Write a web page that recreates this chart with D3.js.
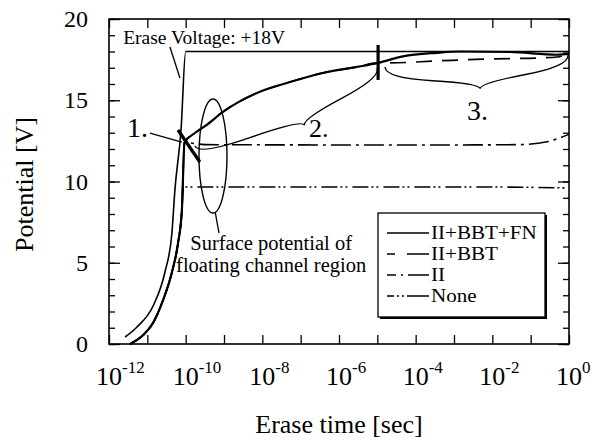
<!DOCTYPE html>
<html>
<head>
<meta charset="utf-8">
<script src="https://cdn.jsdelivr.net/npm/d3@7"></script>
<style>
  body { margin: 0; background: #fff; }
  svg { display: block; font-family: "Liberation Serif", "Times New Roman", serif; }
</style>
</head>
<body>
<div class="canvas"></div>
<script>
// ---- data (time given as exponent of 10, potential in V) ----
const decades = d3.range(-12, 1);
const labelledDecades = [-12, -10, -8, -6, -4, -2, 0];
const majorV = [0, 5, 10, 15, 20];
const minorV = d3.range(0, 21);

// erase voltage on the gate
const eraseT = [-11.58, -11.27, -10.85, -10.54, -10.36, -10.28, -10.12, -10.0, 0];
const eraseV = [0.43, 1.05, 2.34, 4.43, 6.8, 9.5, 13.2, 18, 18];

// common rise of the surface potential (all models)
const riseT = [-11.45, -11.11, -10.85, -10.59, -10.36, -10.2, -10.1];
const riseV = [0, 0.55, 1.3, 2.7, 4.4, 6.2, 8.2];

// tails after the pulse edge
const noneT = [-10.06, -8, -5, -2, 0];
const noneV = [9.66, 9.66, 9.66, 9.66, 9.6];

const iiT = [-10.03, -9.5, -6, -3, -1.28, -0.57, 0];
const iiV = [12.4, 12.27, 12.25, 12.25, 12.27, 12.45, 12.9];

const bbtT = [-10.03, -9.75, -9.44, -9.03, -8.14, -7.28, -6.42, -5.53, -4.98, -4.67, -3.44, -2.14, -0.83, -0.31, 0];
const bbtV = [12.4, 13.0, 13.5, 14.28, 15.45, 16.12, 16.68, 17.05, 17.3, 17.3, 17.42, 17.54, 17.6, 17.66, 17.9];

const fnT = [-10.03, -9.75, -9.44, -9.03, -8.14, -7.28, -6.42, -5.53, -4.98, -4.33, -3.45, -2.84, -1.54, -0.31, 0];
const fnV = [12.4, 13.0, 13.5, 14.28, 15.45, 16.12, 16.68, 17.05, 17.3, 17.7, 17.92, 18.0, 17.97, 17.8, 17.85];

const seriesNames = ['II+BBT+FN', 'II+BBT', 'II', 'None'];

// ---- layout ----
const dims = { width: 603, height: 446 };
const margin = { top: 19, right: 34, bottom: 102, left: 109 };

const svg = d3.select('.canvas')
  .append('svg')
  .attr('width', dims.width)
  .attr('height', dims.height);

const x = d3.scaleLog()
  .domain([1e-12, 1])
  .range([margin.left, dims.width - margin.right]);
const y = d3.scaleLinear()
  .domain([0, 20])
  .range([dims.height - margin.bottom, margin.top]);

const px = e => x(Math.pow(10, e));
const zip = (ts, vs) => ts.map((t, i) => [t, vs[i]]);

const line = d3.line()
  .x(d => px(d[0]))
  .y(d => y(d[1]))
  .curve(d3.curveMonotoneX);

// ---- axes (ticks point inward) ----
const tv = decades.map(e => Math.pow(10, e));
const yBottom = y.range()[0], yTop = y.range()[1];
const xLeft = x.range()[0], xRight = x.range()[1];

svg.append('g').attr('transform', `translate(0,${yBottom})`)
  .call(d3.axisBottom(x).tickValues(tv).tickSize(-9).tickFormat(''));
svg.append('g').attr('transform', `translate(0,${yTop})`)
  .call(d3.axisTop(x).tickValues(tv).tickSize(-9).tickFormat(''));
svg.append('g').attr('transform', `translate(${xLeft},0)`)
  .call(d3.axisLeft(y).tickValues(minorV).tickSize(-6).tickFormat(''));
svg.append('g').attr('transform', `translate(${xLeft},0)`)
  .call(d3.axisLeft(y).tickValues(majorV).tickSize(-11).tickPadding(21))
  .selectAll('text').attr('font-size', 24).attr('font-family', 'Liberation Serif').attr('fill', '#000');
svg.append('g').attr('transform', `translate(${xRight},0)`)
  .call(d3.axisRight(y).tickValues(minorV).tickSize(-6).tickFormat(''));
svg.append('g').attr('transform', `translate(${xRight},0)`)
  .call(d3.axisRight(y).tickValues(majorV).tickSize(-11).tickFormat(''));

svg.selectAll('.domain').remove();
svg.selectAll('.tick line').attr('stroke', '#000').attr('stroke-width', 1.3);

svg.append('rect')
  .attr('x', xLeft).attr('y', yTop)
  .attr('width', xRight - xLeft).attr('height', yBottom - yTop)
  .attr('fill', 'none').attr('stroke', '#000').attr('stroke-width', 1.6);

// x tick labels 10^n
const xl = svg.append('g').selectAll('g')
  .data(labelledDecades)
  .enter().append('g');
xl.append('text')
  .attr('x', d => px(d)).attr('y', yBottom + 41)
  .attr('text-anchor', 'middle').attr('font-size', 26)
  .text('10');
xl.append('text')
  .attr('x', d => px(d) + 13).attr('y', yBottom + 29)
  .attr('font-size', 17)
  .text(d => d === 0 ? '0' : '-' + Math.abs(d));

// axis titles
svg.append('text')
  .attr('x', (xLeft + xRight) / 2).attr('y', 433)
  .attr('text-anchor', 'middle').attr('font-size', 26)
  .text('Erase time [sec]');
svg.append('text')
  .attr('transform', `translate(33,${(yTop + yBottom) / 2 + 3}) rotate(-90)`)
  .attr('text-anchor', 'middle').attr('font-size', 26)
  .text('Potential [V]');

// ---- curves ----
const curves = [
  { pts: zip(eraseT, eraseV), dash: null, w: 1.6 },
  { pts: zip(riseT.concat(noneT), riseV.concat(noneV)), dash: '16,3,2,3,2,5', w: 1.6 },
  { pts: zip(riseT.concat(iiT), riseV.concat(iiV)), dash: '20,5,3,5', w: 1.6 },
  { pts: zip(riseT.concat(bbtT), riseV.concat(bbtV)), dash: '16,10', w: 1.7 },
  { pts: zip(riseT.concat(fnT), riseV.concat(fnV)), dash: null, w: 2.2 }
];

svg.append('g').selectAll('path')
  .data(curves)
  .enter().append('path')
  .attr('d', d => line(d.pts))
  .attr('fill', 'none')
  .attr('stroke', '#000')
  .attr('stroke-width', d => d.w)
  .attr('stroke-dasharray', d => d.dash);

// ---- annotations ----
const straight = d3.line().x(d => px(d[0])).y(d => y(d[1]));
const ann = svg.append('g').attr('fill', 'none').attr('stroke', '#000');

// thick markers at 1. and at the 2./3. border
ann.append('path').attr('d', straight([[-10.2, 13.17], [-9.63, 11.2]])).attr('stroke-width', 3.2);
ann.append('path').attr('d', straight([[-4.98, 18.4], [-4.98, 16.25]])).attr('stroke-width', 3.2);

// leader lines
ann.append('path').attr('d', straight([[-10.41, 18.28], [-10.15, 16.37]])).attr('stroke-width', 1.3);
ann.append('path').attr('d', straight([[-10.93, 12.98], [-10.1, 12.43]])).attr('stroke-width', 1.3);
ann.append('path').attr('d', straight([[-9.23, 8.12], [-9.13, 6.83]])).attr('stroke-width', 1.3);

// ellipse round the floating channel potentials
ann.append('ellipse')
  .attr('cx', px(-9.287)).attr('cy', y(11.57))
  .attr('rx', 14).attr('ry', 57)
  .attr('stroke-width', 1.4);

// curly braces, f = position of the tip along the brace
function bracePath(p1, p2, w, q, f) {
  const [x1, y1] = p1, [x2, y2] = p2;
  let dx = x1 - x2, dy = y1 - y2;
  const len = Math.hypot(dx, dy);
  dx /= len; dy /= len;
  const qx1 = x1 + q * w * dy, qy1 = y1 - q * w * dx;
  const qx2 = (x1 - f / 2 * len * dx) + (1 - q) * w * dy, qy2 = (y1 - f / 2 * len * dy) - (1 - q) * w * dx;
  const tx = (x1 - f * len * dx) + w * dy, ty = (y1 - f * len * dy) - w * dx;
  const qx3 = x2 + q * w * dy, qy3 = y2 - q * w * dx;
  const qx4 = (x1 - (1 + f) / 2 * len * dx) + (1 - q) * w * dy, qy4 = (y1 - (1 + f) / 2 * len * dy) - (1 - q) * w * dx;
  return `M${x1},${y1}Q${qx1},${qy1} ${qx2},${qy2}T${tx},${ty}` +
         `M${x2},${y2}Q${qx3},${qy3} ${qx4},${qy4}T${tx},${ty}`;
}
const braces = [
  { a: [-9.756, 12.18], b: [-5.008, 16.98], w: 24, q: 0.42, f: 0.55 },
  { a: [-4.80, 17.05], b: [-0.025, 17.78], w: 28, q: 0.4, f: 0.51 }
];
ann.selectAll('.brace')
  .data(braces)
  .enter().append('path')
  .attr('class', 'brace')
  .attr('d', d => bracePath([px(d.a[0]), y(d.a[1])], [px(d.b[0]), y(d.b[1])], d.w, d.q, d.f))
  .attr('stroke-width', 1.4);

// text labels
const labels = [
  { t: 'Erase Voltage: +18V', at: [-11.63, 18.46], size: 19.5, anchor: 'start' },
  { t: '1.', at: [-11.53, 12.74], size: 28, anchor: 'start' },
  { t: '2.', at: [-6.78, 12.74], size: 26, anchor: 'start' },
  { t: '3.', at: [-2.66, 13.78], size: 28, anchor: 'start' },
  { t: 'Surface potential of', at: [-7.77, 5.78], size: 20.5, anchor: 'middle' },
  { t: 'floating channel region', at: [-7.77, 4.43], size: 20.5, anchor: 'middle' }
];
svg.append('g').selectAll('text')
  .data(labels)
  .enter().append('text')
  .attr('x', d => px(d.at[0])).attr('y', d => y(d.at[1]))
  .attr('font-size', d => d.size)
  .attr('text-anchor', d => d.anchor)
  .text(d => d.t);

// ---- legend ----
const lg = { x: 378, y: 213, w: 167, h: 104 };
const legendDash = [null, '8,12,24', '9,5,2,5,22', '7,3,2,3,2,3,22'];
const legend = svg.append('g');
legend.append('rect')
  .attr('x', lg.x + 2).attr('y', lg.y + 2)
  .attr('width', lg.w).attr('height', lg.h)
  .attr('fill', '#000');
legend.append('rect')
  .attr('x', lg.x).attr('y', lg.y)
  .attr('width', lg.w).attr('height', lg.h)
  .attr('fill', '#fff').attr('stroke', '#000').attr('stroke-width', 1.3);

const items = legend.selectAll('.item')
  .data(seriesNames)
  .enter().append('g')
  .attr('class', 'item')
  .attr('transform', (d, i) => `translate(${lg.x + 9},${lg.y + 20 + i * 21})`);
items.append('line')
  .attr('x1', 0).attr('x2', 42)
  .attr('stroke', '#000').attr('stroke-width', 1.5)
  .attr('stroke-dasharray', (d, i) => legendDash[i]);
items.append('text')
  .attr('x', 44).attr('y', 0)
  .attr('dy', '0.35em')
  .attr('font-size', 18.5)
  .text(d => d)
  // the printed legend type is a little wider than it is tall
  .each(function() {
    const w = this.getComputedTextLength();
    d3.select(this).attr('textLength', w * 1.14).attr('lengthAdjust', 'spacingAndGlyphs');
  });
</script>
</body>
</html>
